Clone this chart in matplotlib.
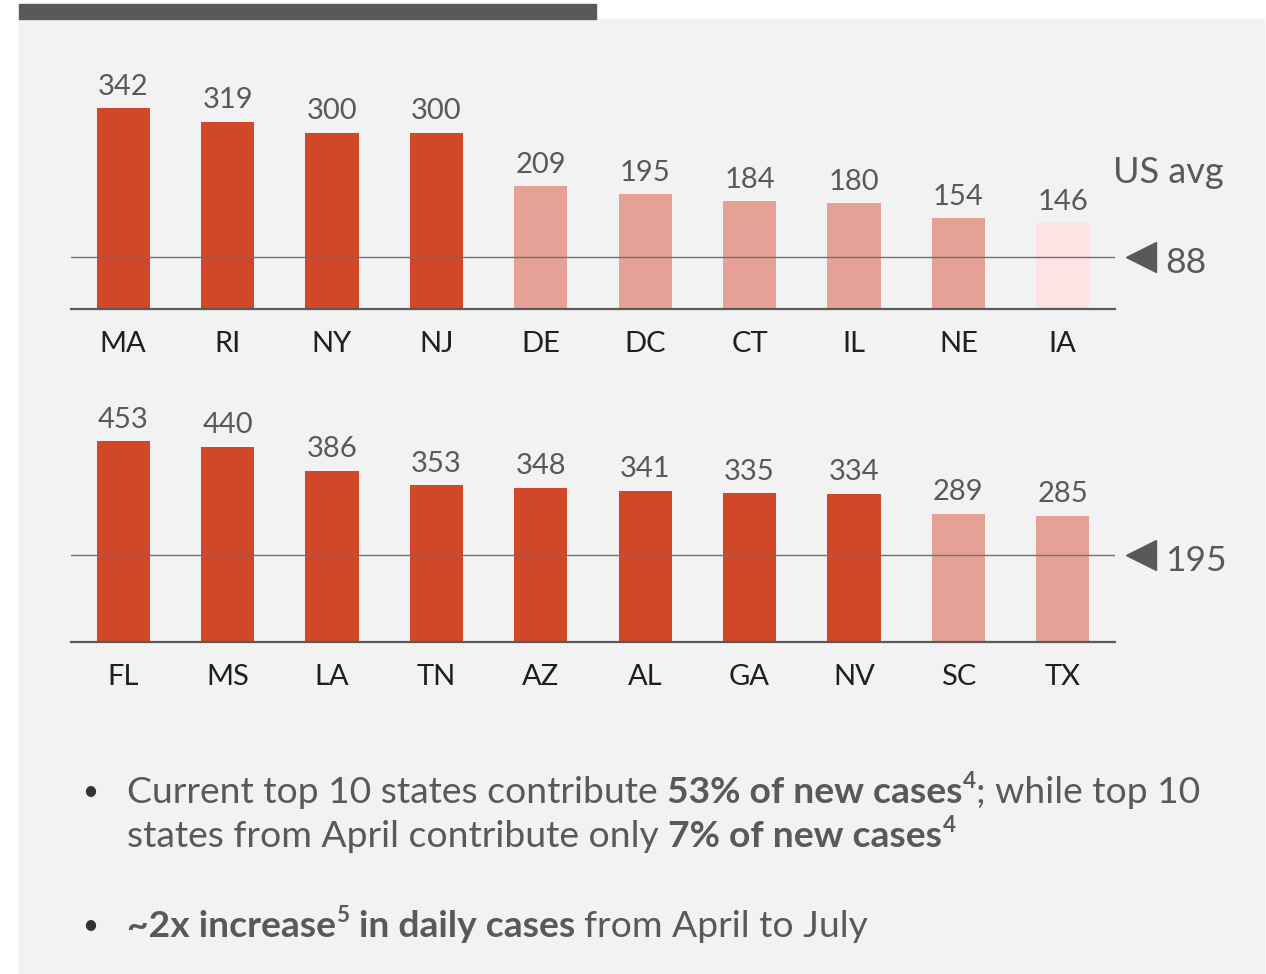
import matplotlib
matplotlib.use('Agg')
import matplotlib.pyplot as plt
from matplotlib.patches import Rectangle
from matplotlib.transforms import blended_transform_factory

# ---------------- data ----------------
top_states = ['MA', 'RI', 'NY', 'NJ', 'DE', 'DC', 'CT', 'IL', 'NE', 'IA']
top_values = [342, 319, 300, 300, 209, 195, 184, 180, 154, 146]
top_tiers = ['high'] * 4 + ['mid'] * 5 + ['low']
top_avg = 88

bottom_states = ['FL', 'MS', 'LA', 'TN', 'AZ', 'AL', 'GA', 'NV', 'SC', 'TX']
bottom_values = [453, 440, 386, 353, 348, 341, 335, 334, 289, 285]
bottom_tiers = ['high'] * 8 + ['mid'] * 2
bottom_avg = 195

avg_title = 'US avg'

bullet1_line1 = [("Current top 10 states contribute", 'normal', 'main', 0),
                 ("53% of new cases", 'bold', 'main', 1),
                 ("4", 'bold', 'sup', 0.1),
                 ("; while top 10", 'normal', 'main', 0.05)]
bullet1_line2 = [("states from April contribute only", 'normal', 'main', 0),
                 ("7% of new cases", 'bold', 'main', 1),
                 ("4", 'bold', 'sup', 0.1)]
bullet2_line1 = [("~2x increase", 'bold', 'main', 0),
                 ("5", 'bold', 'sup', 0.1),
                 ("in daily cases", 'bold', 'main', 1),
                 ("from April to July", 'normal', 'main', 1)]

# ---------------- style ----------------
FONT = 'Lato'
plt.rcParams['font.family'] = [FONT, 'DejaVu Sans']
tier_colors = {'high': '#D04828', 'mid': '#E5A195', 'low': '#FDE3E3'}
TEXT = '#595959'
DARK = '#1f1f1f'

W, H = 1266, 974
fig = plt.figure(figsize=(W / 100, H / 100), dpi=100)
fig.patch.set_facecolor('white')
fig.add_artist(Rectangle((19 / W, 0), (1264 - 19) / W, 1 - 19 / H,
                         transform=fig.transFigure, color='#f2f2f2', zorder=0))
fig.add_artist(Rectangle((19 / W, 1 - 19 / H), (596 - 19) / W, 15 / H,
                         transform=fig.transFigure, color='#595959', zorder=0))

AX_H = 249
BAR_PX = 201


def panel(base_px, states, values, tiers, avg):
    ax = fig.add_axes([71 / W, 1 - base_px / H, 1044 / W, AX_H / H])
    ax.set_facecolor('none')
    x = list(range(len(states)))
    bars = ax.bar(x, values, width=0.51, color=[tier_colors[t] for t in tiers], zorder=2)
    ax.set_xlim(-0.5, len(states) - 0.5)
    ax.set_ylim(0, max(values) * AX_H / BAR_PX)
    ax.bar_label(bars, labels=[str(v) for v in values], padding=6,
                 fontsize=21, color=TEXT)
    ax.axhline(avg, color='#6f6f6f', lw=1, zorder=3)
    for s in ['top', 'right', 'left']:
        ax.spines[s].set_visible(False)
    ax.spines['bottom'].set_color('#595959')
    ax.spines['bottom'].set_linewidth(1.6)
    ax.set_yticks([])
    ax.set_xticks(x)
    ax.set_xticklabels(states, fontsize=21, color=DARK)
    ax.tick_params(axis='x', length=0, pad=16)
    tr = blended_transform_factory(ax.transAxes, ax.transData)
    ax.plot([1.0245], [avg], marker='<', ms=21, color='#595959',
            transform=tr, clip_on=False, linestyle='none')
    ax.annotate(str(avg), xy=(1.048, avg), xycoords=tr,
                xytext=(0, -11.5), textcoords='offset points',
                ha='left', va='baseline', fontsize=25.5, color=TEXT,
                annotation_clip=False)
    return ax


ax1 = panel(309, top_states, top_values, top_tiers, top_avg)
ax2 = panel(642, bottom_states, bottom_values, bottom_tiers, bottom_avg)

fig.text(1113 / W, 1 - 173 / H, avg_title, ha='left', va='center',
         fontsize=26, color=TEXT)

# ---------------- bullet text ----------------
MAIN = 26.8
renderer = fig.canvas.get_renderer()


def rich_line(x_px, base_px, pieces):
    x = x_px
    for text, weight, kind, gap in pieces:
        size = MAIN if kind == 'main' else MAIN * 0.6
        x += gap * MAIN * 0.24 * 100 / 72
        y = base_px if kind == 'main' else base_px - MAIN * 0.4 * 100 / 72
        t = fig.text(x / W, 1 - y / H, text, ha='left', va='baseline',
                     fontsize=size, fontweight=weight, color=TEXT)
        bb = t.get_window_extent(renderer)
        x = bb.x1


for yb in (803, 937):
    fig.text(90 / W, 1 - (yb - 3) / H, '\u2022', ha='center', va='baseline',
             fontsize=20, color='#333333')

rich_line(127, 803, bullet1_line1)
rich_line(127, 847, bullet1_line2)
rich_line(127, 937, bullet2_line1)

fig.savefig('out.png', dpi=100, facecolor=fig.get_facecolor())
